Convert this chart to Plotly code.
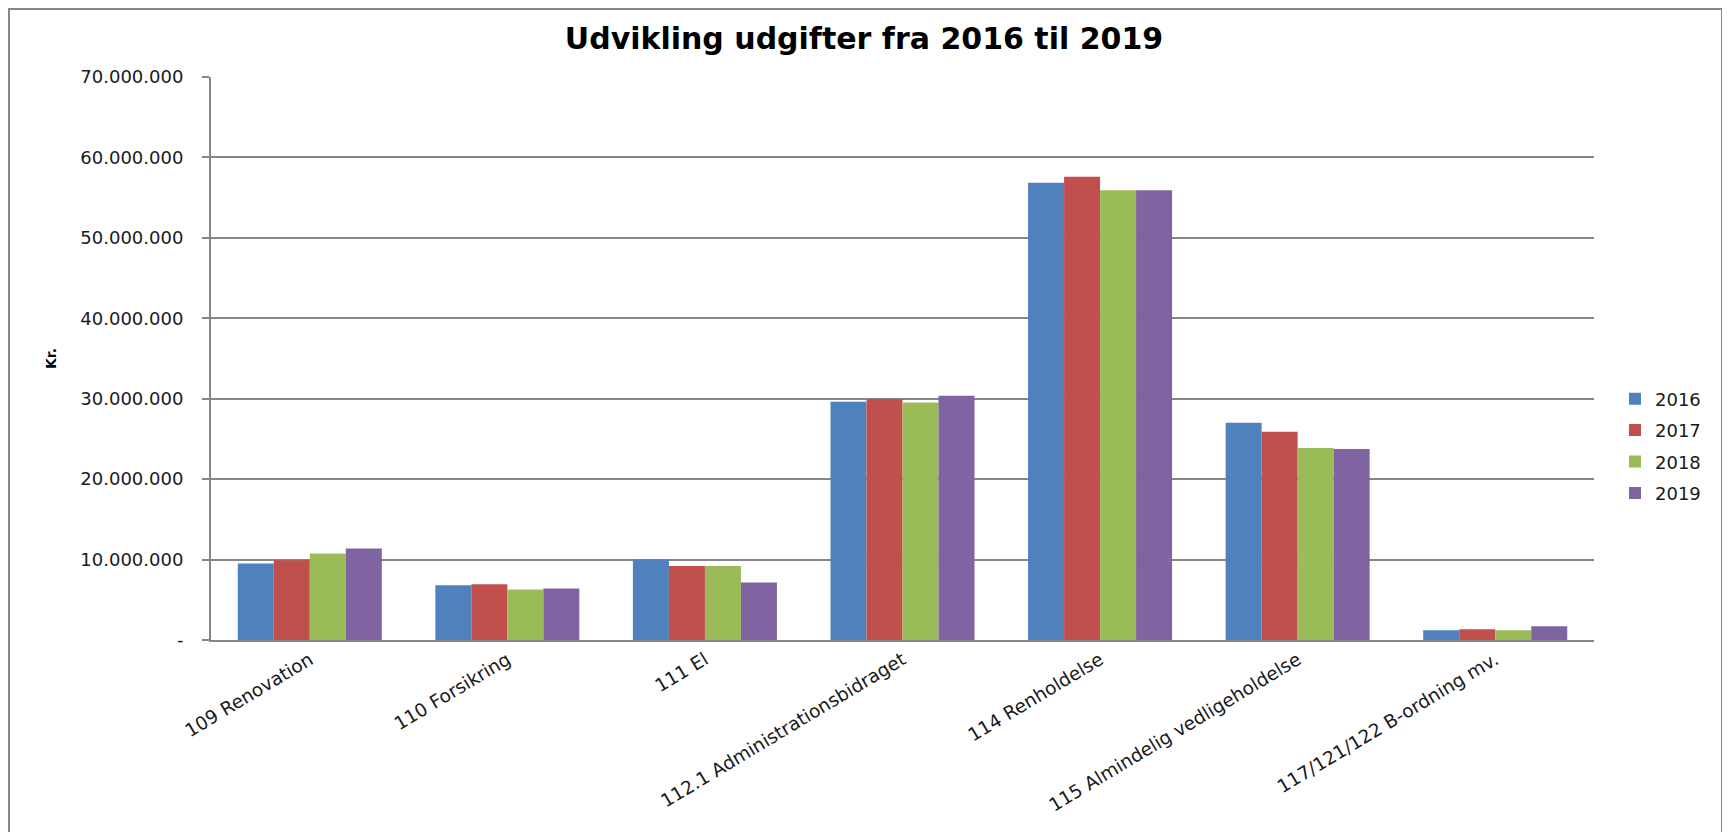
import plotly.graph_objects as go

categories = ["109 Renovation", "110 Forsikring", "111 El", "112.1 Administrationsbidraget",
              "114 Renholdelse", "115 Almindelig vedligeholdelse", "117/121/122 B-ordning mv."]
years = ["2016", "2017", "2018", "2019"]
v2016 = [9500000, 6800000, 10000000, 29630000, 56840000, 27000000, 1200000]
v2017 = [9910000, 6930000, 9200000, 29950000, 57590000, 25900000, 1330000]
v2018 = [10750000, 6270000, 9200000, 29540000, 55930000, 23880000, 1200000]
v2019 = [11370000, 6390000, 7140000, 30370000, 55930000, 23740000, 1700000]
series = [v2016, v2017, v2018, v2019]
colors = ["#4F81BD", "#C0504D", "#9BBB59", "#8064A2"]
y_ticks = [0, 10000000, 20000000, 30000000, 40000000, 50000000, 60000000, 70000000]
y_ticktext = ["-", "10.000.000", "20.000.000", "30.000.000", "40.000.000",
              "50.000.000", "60.000.000", "70.000.000"]

FONT = "DejaVu Sans"
TXT = "#1a1a1a"
fig = go.Figure()
for yr, vals, c in zip(years, series, colors):
    fig.add_trace(go.Bar(x=categories, y=vals, name=yr, marker_color=c,
                         marker_line_width=0, legendgroup=yr))

# page body has an 8px margin: figure pixel = screen pixel - 8
OFF = 8
W, H = 1730 - OFF, 832 - OFF
L, T = 211 - OFF, 77 - OFF
R = W - (1594 - OFF)
B = H - (640 - OFF)
pw, ph = W - L - R, H - T - B

def px_x(x):
    return (x - OFF - L) / pw

def px_y(y):
    return (H - B - (y - OFF)) / ph

fig.update_layout(
    width=W, height=H,
    margin=dict(l=L, r=R, t=T, b=B, autoexpand=False),
    paper_bgcolor="white", plot_bgcolor="white",
    barmode="group", bargap=0.271, bargroupgap=0,
    font=dict(family=FONT, color=TXT),
    title=dict(text="<b>Udvikling udgifter fra 2016 til 2019</b>",
               x=(864 - OFF) / W, xanchor="center", xref="container",
               y=1 - (38 - OFF) / H, yanchor="middle", yref="container",
               font=dict(family=FONT, size=30, color="#000000")),
    legend=dict(x=px_x(1615), xanchor="left", y=px_y(446), yanchor="middle",
                font=dict(family=FONT, size=18, color=TXT),
                tracegroupgap=5, bgcolor="rgba(0,0,0,0)"),
    xaxis=dict(tickangle=-31, tickfont=dict(family=FONT, size=18.5, color=TXT),
               showline=True, linecolor="#868686", linewidth=2, ticks="",
               showgrid=False),
    yaxis=dict(range=[0, 70000000], tickvals=y_ticks, ticktext=y_ticktext,
               tickfont=dict(family=FONT, size=18, color=TXT),
               showgrid=True, gridcolor="#868686", gridwidth=1.5,
               showline=True, linecolor="#868686", linewidth=2,
               ticks="outside", ticklen=7, tickcolor="#868686", tickwidth=1.5,
               zeroline=False, ticklabelstandoff=15),
    annotations=[dict(text="<b>Kr.</b>", x=px_x(51), y=px_y(359), xref="paper", yref="paper",
                      textangle=-90, showarrow=False, xanchor="center", yanchor="middle",
                      font=dict(family=FONT, size=14, color="#000000"))],
    shapes=[dict(type="rect", xref="paper", yref="paper",
                 x0=px_x(OFF + 1), x1=px_x(1722), y0=px_y(840), y1=px_y(OFF + 1),
                 line=dict(color="#868686", width=2), fillcolor="rgba(0,0,0,0)",
                 layer="below")],
)

fig.write_html("out.html")
